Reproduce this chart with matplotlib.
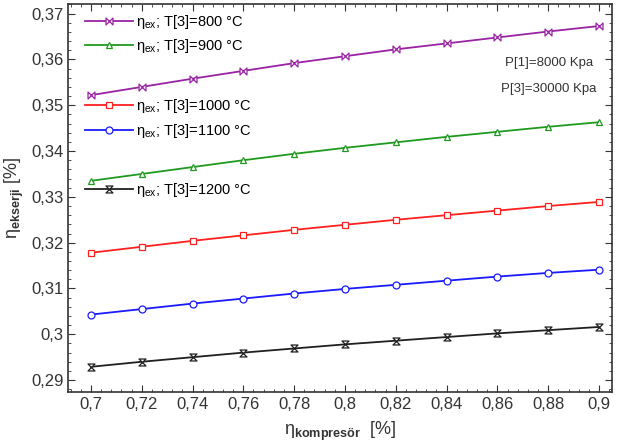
import numpy as np
import matplotlib.pyplot as plt
from matplotlib.path import Path
from matplotlib.ticker import MultipleLocator, FuncFormatter

plt.rcParams['font.family'] = ['Liberation Sans', 'DejaVu Sans']
plt.rcParams['mathtext.fontset'] = 'custom'
plt.rcParams['mathtext.rm'] = 'Liberation Sans'
plt.rcParams['mathtext.it'] = 'Liberation Sans'
plt.rcParams['mathtext.bf'] = 'Liberation Sans:bold'
plt.rcParams['mathtext.default'] = 'regular'

# veriler
eta_komp = [0.70, 0.72, 0.74, 0.76, 0.78, 0.80, 0.82, 0.84, 0.86, 0.88, 0.90]
T3 = [800, 900, 1000, 1100, 1200]
eta_800 = [0.3522, 0.3540, 0.3558, 0.3575, 0.3592, 0.3607, 0.3622, 0.3635, 0.3648, 0.3661, 0.3673]
eta_900 = [0.3335, 0.3350, 0.3365, 0.3380, 0.3394, 0.3407, 0.3419, 0.3431, 0.3442, 0.3453, 0.3463]
eta_1000 = [0.3178, 0.3191, 0.3204, 0.3216, 0.3228, 0.3239, 0.3250, 0.3260, 0.3270, 0.3280, 0.3289]
eta_1100 = [0.3043, 0.3055, 0.3067, 0.3078, 0.3089, 0.3099, 0.3108, 0.3117, 0.3126, 0.3134, 0.3141]
eta_1200 = [0.2929, 0.2940, 0.2950, 0.2960, 0.2969, 0.2978, 0.2986, 0.2994, 0.3002, 0.3009, 0.3016]
seriler = [eta_800, eta_900, eta_1000, eta_1100, eta_1200]

# marker sekilleri
bowtie = Path([(-1, -1), (-1, 1), (1, -1), (1, 1), (-1, -1)],
              [Path.MOVETO, Path.LINETO, Path.LINETO, Path.LINETO, Path.CLOSEPOLY])
hourglass = Path([(-1, 1), (1, 1), (-1, -1), (1, -1), (-1, 1)],
                 [Path.MOVETO, Path.LINETO, Path.LINETO, Path.LINETO, Path.CLOSEPOLY])
renkler = ['#9a22a4', '#1f9a1f', '#ff2020', '#1a1aff', '#202020']
markerlar = [bowtie, '^', 's', 'o', hourglass]

fig, ax = plt.subplots(figsize=(6.17, 4.48), dpi=100)
fig.subplots_adjust(left=0.111, right=0.992, top=0.99, bottom=0.125)

handles = []
for t, y, c, m in zip(T3, seriler, renkler, markerlar):
    h, = ax.plot(eta_komp, y, color=c, lw=1.3, marker=m, ms=5,
                 mfc='white', mec=c, mew=0.9,
                 label=r'$\eta_{ex}$; T[3]=%d °C' % t)
    handles.append(h)

# legend girisleri ayri ayri
leg_y = [0.955, 0.893, 0.738, 0.674, 0.521]
for h, ly in zip(handles, leg_y):
    lg = ax.legend(handles=[h], loc='center left', bbox_to_anchor=(0.02, ly),
                   frameon=False, fontsize=10.5, handlelength=3.3,
                   handletextpad=0.2, borderaxespad=0)
    ax.add_artist(lg)
ax.legend_ = None  # son legend iki kez cizilmesin

ax.text(0.803, 0.848, 'P[1]=8000 Kpa', transform=ax.transAxes, fontsize=9.5,
        va='center', color='#333333')
ax.text(0.795, 0.781, 'P[3]=30000 Kpa', transform=ax.transAxes, fontsize=9.5,
        va='center', color='#333333')

ax.set_xlim(0.6912, 0.9051)
ax.set_ylim(0.2874, 0.3720)
ax.xaxis.set_major_locator(MultipleLocator(0.02))
ax.xaxis.set_minor_locator(MultipleLocator(0.004))
ax.yaxis.set_major_locator(MultipleLocator(0.01))
ax.yaxis.set_minor_locator(MultipleLocator(0.002))
fmt = FuncFormatter(lambda v, p: ('%g' % round(v, 4)).replace('.', ','))
ax.xaxis.set_major_formatter(fmt)
ax.yaxis.set_major_formatter(fmt)
ax.tick_params(which='both', direction='in', top=True, right=True,
               labelsize=12, colors='#333333')
ax.tick_params(which='major', length=5)
ax.tick_params(which='minor', length=2.5)
for s in ax.spines.values():
    s.set_linewidth(1.2)
    s.set_color('#333333')

ax.set_xlabel(r'$\eta_{\mathbf{kompresör}}$  [%]', fontsize=13, color='#333333',
              labelpad=6)
ax.set_ylabel(r'$\eta_{\mathbf{ekserji}}$ [%]', fontsize=13, color='#333333')

fig.savefig('out.png', dpi=100)
